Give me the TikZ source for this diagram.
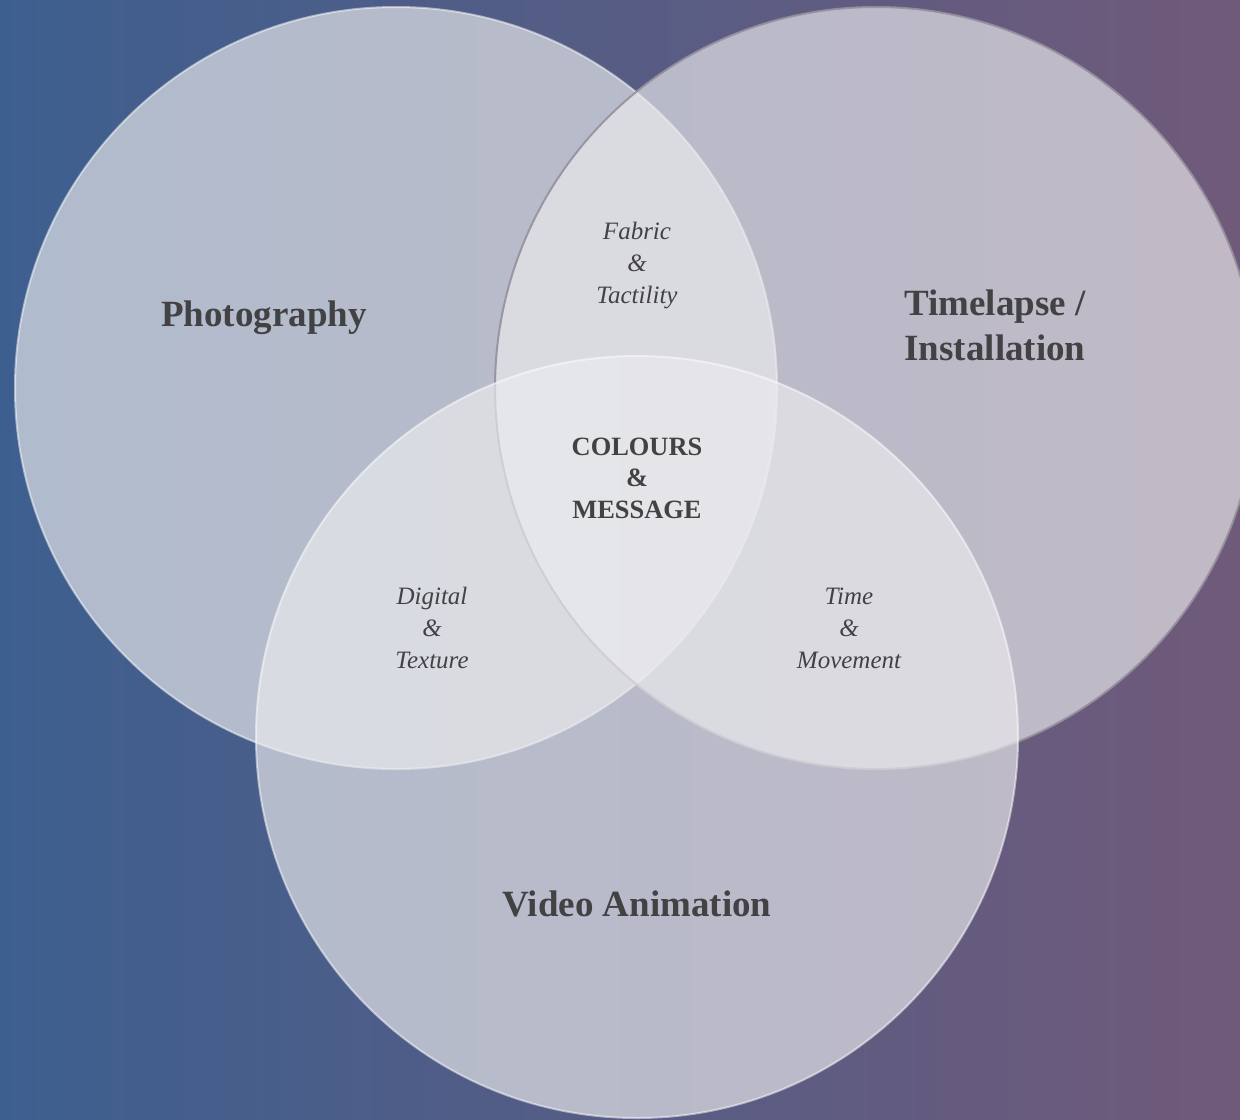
\documentclass[tikz,border=0pt]{standalone}
\usepackage{fontspec}
\setmainfont{Liberation Serif}
\definecolor{bgleft}{RGB}{61,95,143}
\definecolor{bgright}{RGB}{112,90,122}
\definecolor{setfill}{RGB}{236,236,238}
\definecolor{setedge}{RGB}{150,143,158}
\definecolor{labeltext}{RGB}{66,66,68}
\begin{document}
\begin{tikzpicture}[x=0.5pt, y=-0.5pt]
        \tikzset{
            set/.style     = {circle, minimum size=381pt, inner sep=0pt, fill=setfill, fill opacity=0.66, draw=white, draw opacity=0.5, line width=1pt},
            title/.style   = {text=labeltext, align=center, font=\fontsize{18.5}{22.5}\selectfont\bfseries},
            overlap/.style = {text=labeltext, align=center, font=\fontsize{12.5}{16}\selectfont\itshape},
            core/.style    = {text=labeltext, align=center, font=\fontsize{13.2}{15.8}\selectfont\bfseries}
        }
        \shade[left color=bgleft, right color=bgright] (0,0) rectangle (1240,1119);
        \useasboundingbox (0,0) rectangle (1240,1119);

        % the three sets
        \node[set] (PHOTO) at (396,388) {};
        \node[set, draw=setedge, draw opacity=0.9] (TIME) at (876,388) {};
        \node[set] (VIDEO) at (637,737) {};

        % set names
        \node[title] (PHOTOT) at (264,318) {Photography};
        \node[title] (TIMET) at (995,325) {Timelapse /\\Installation};
        \node[title] (VIDEOT) at (637,904) {Video Animation};

        % overlaps
        \node[overlap] (FABRIC) at (637,266) {Fabric\\\&\\Tactility};
        \node[overlap] (DIGITAL) at (432,628) {Digital\\\&\\Texture};
        \node[overlap] (MOVE) at (849,628) {Time\\\&\\Movement};
        \node[core] (CORE) at (637,478) {COLOURS\\\&\\MESSAGE};
    \end{tikzpicture}
\end{document}
